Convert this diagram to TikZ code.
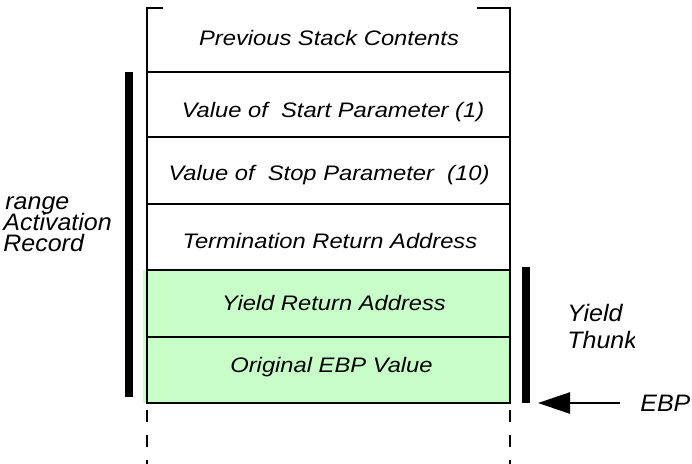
\documentclass[tikz,border=0pt]{standalone}
\usepackage{fontspec}
\setmainfont{Liberation Sans}[FakeStretch=1.13]
\newfontfamily\sidefont{Liberation Sans}[FakeStretch=1.05]
\usetikzlibrary{arrows.meta}
\definecolor{thunkgreen}{RGB}{200,255,200}
\begin{document}
\begin{tikzpicture}[x=0.5pt,y=-0.5pt,
  lbl/.style={font=\fontsize{10.5}{11}\selectfont\itshape, inner sep=0pt, anchor=base},
  side/.style={font=\sidefont\fontsize{11.9}{12}\selectfont\itshape, inner sep=0pt, anchor=base west},
  frameline/.style={line width=1pt},
  bar/.style={line width=4pt},
  dashline/.style={line width=1pt, dash pattern=on 6pt off 6.5pt},
  ptr/.style={line width=1.3pt, -{Triangle[length=16pt,width=10.5pt]}}]
\useasboundingbox (0,0) rectangle (692,463);
% green thunk region
\fill[thunkgreen] (143,270) rectangle (510,403);
% frame
\draw[frameline] (163,8) -- (147,8) -- (147,403) -- (510,403) -- (510,8) -- (477,8);
\foreach \yy in {72,137,204,270,337} \draw[frameline] (147,\yy) -- (510,\yy);
% dashed continuation
\draw[dashline] (147,410) -- (147,470);
\draw[dashline] (510,410) -- (510,470);
% cell texts
\node[lbl] (prev) at (329,45) {Previous Stack Contents};
\node[lbl] (start) at (333,117) {Value of \ Start Parameter (1)};
\node[lbl] (stop) at (329,180) {Value of \ Stop Parameter \ (10)};
\node[lbl] (term) at (330,248) {Termination Return Address};
\node[lbl] (yret) at (334,310) {Yield Return Address};
\node[lbl] (oebp) at (331.5,372) {Original EBP Value};
% side bars
\draw[bar] (129,72) -- (129,397);
\draw[bar] (526,267) -- (526,403);
% left label
\node[side] (l1) at (5,209) {range};
\node[side] (l2) at (3,230) {Activation};
\node[side] (l3) at (3,251) {Record};
% right label
\node[side] (y1) at (567,321.5) {Yield};
\begin{scope}
\clip (560,325) rectangle (634,360);
\node[side] (y2) at (567,348.5) {Thunk};
\end{scope}
% EBP pointer
\node[side] (ebp) at (640,411.5) {EBP};
\coordinate (ptrstart) at (620,403);
\coordinate (ptrend) at (538,403);
\draw[ptr] (ptrstart) -- (ptrend);
\end{tikzpicture}
\end{document}
